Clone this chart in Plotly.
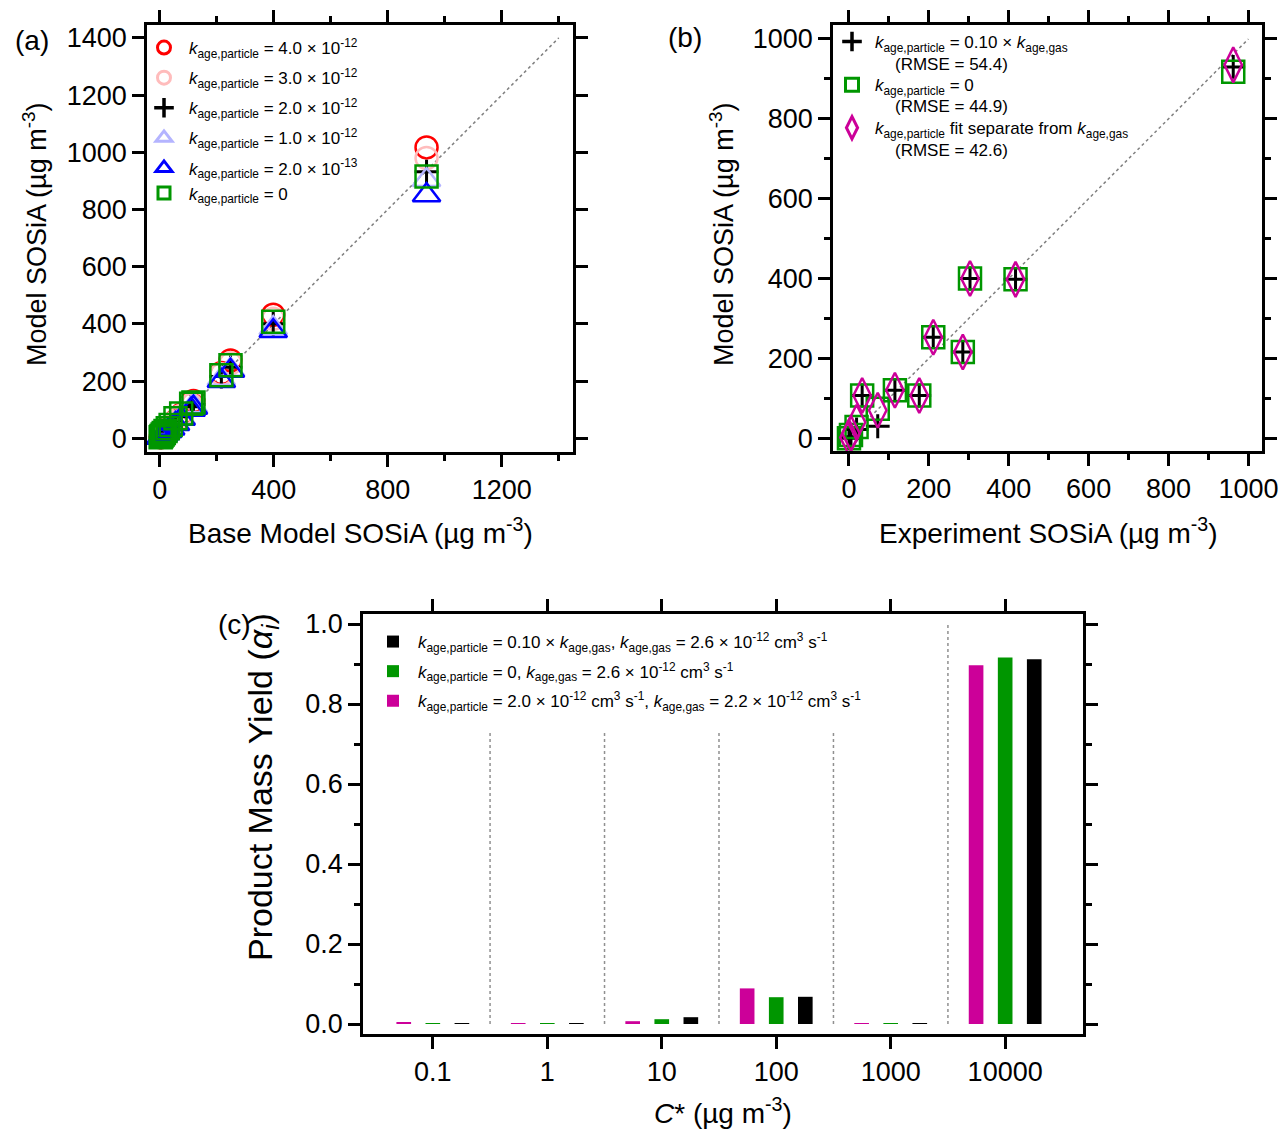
import plotly.graph_objects as go

W, H = 1281, 1130
FONT = "Liberation Sans"

# ---------------- panel (a): model vs base model ----------------
base_x = [3, 6, 10, 14, 20, 28, 38, 55, 75, 110, 118, 216, 248, 398, 936]
a_red = [3, 7, 11, 15, 22, 31, 42, 60, 82, 121, 130, 228, 272, 432, 1017]
a_pink = [3, 6, 10, 15, 21, 29, 40, 58, 79, 116, 124, 224, 262, 418, 980]
a_black = [3, 6, 10, 14, 20, 28, 38, 55, 75, 110, 118, 216, 248, 400, 932]
a_lblue = [3, 6, 9, 13, 19, 27, 36, 52, 72, 106, 113, 208, 240, 385, 903]
a_blue = [2, 5, 9, 13, 18, 25, 34, 50, 68, 100, 107, 200, 236, 375, 850]
a_green = [4, 8, 13, 18, 25, 35, 46, 70, 87, 121, 125, 220, 255, 407, 915]
a_one_to_one = [0, 1400]
a_labels = ["4.0 × 10<sup>-12</sup>", "3.0 × 10<sup>-12</sup>", "2.0 × 10<sup>-12</sup>",
            "1.0 × 10<sup>-12</sup>", "2.0 × 10<sup>-13</sup>", "0"]

# ---------------- panel (b): model vs experiment ----------------
exp_x = [0, 5, 19, 33, 72, 115, 176, 211, 285, 303, 417, 962]
b_plus = [0, 4, 22, 107, 30, 120, 107, 253, 216, 400, 398, 930]
b_square = [0, 8, 28, 107, 74, 120, 107, 253, 216, 400, 398, 918]
b_diamond = [2, 12, 40, 107, 70, 120, 107, 253, 216, 400, 398, 935]
b_rmse = [54.4, 44.9, 42.6]
b_one_to_one = [0, 1000]

# ---------------- panel (c): product mass yields ----------------
cstar_labels = ["0.1", "1", "10", "100", "1000", "10000"]
c_black = [0.001, 0.001, 0.017, 0.068, 0.001, 0.912]
c_green = [0.001, 0.001, 0.012, 0.067, 0.001, 0.916]
c_magenta = [0.005, 0.001, 0.007, 0.089, 0.001, 0.897]
sep_x = [0.5, 1.5, 2.5, 3.5, 4.5]
sep_top = [0.73, 0.73, 0.73, 0.73, 1.0]

RED = "#ff0000"
PINK = "#ffbcbc"
LBLUE = "#b4b4ff"
BLUE = "#0000ff"
GREEN = "#009600"
MAGENTA = "#cc0099"

K = "<i>k</i><sub>age,particle</sub>"
KG = "<i>k</i><sub>age,gas</sub>"


def px(v):
    return v / W


def py(v):
    return 1 - v / H


fig = go.Figure()

# one-to-one guide lines
fig.add_trace(go.Scatter(x=a_one_to_one, y=a_one_to_one, mode="lines",
                         line=dict(color="#808080", width=1.5, dash="dot"),
                         showlegend=False, hoverinfo="skip", xaxis="x", yaxis="y"))
fig.add_trace(go.Scatter(x=b_one_to_one, y=b_one_to_one, mode="lines",
                         line=dict(color="#808080", width=1.5, dash="dot"),
                         showlegend=False, hoverinfo="skip", xaxis="x2", yaxis="y2"))


def pts(x, y, symbol, color, size, lw, ax):
    return go.Scatter(x=x, y=y, mode="markers", showlegend=False,
                      marker=dict(symbol=symbol, size=size, color=color,
                                  line=dict(color=color, width=lw)),
                      xaxis=ax[0], yaxis=ax[1])


def key(name, symbol, color, size, lw, ax, legend, group):
    # legend-only entry with its own symbol size
    return go.Scatter(x=[None], y=[None], mode="markers", name=name,
                      legend=legend, legendgroup=group,
                      marker=dict(symbol=symbol, size=size, color=color,
                                  line=dict(color=color, width=lw)),
                      xaxis=ax[0], yaxis=ax[1])


A = ("x", "y")
a_series = [
    (a_red, "circle-open", RED, 22, 2.5, 13, 3),
    (a_pink, "circle-open", PINK, 22, 2.5, 13, 3),
    (a_black, "cross-thin-open", "black", 17, 3, 14, 3.5),
    (a_lblue, "triangle-up-open", LBLUE, 24, 2.5, 14, 3),
    (a_blue, "triangle-up-open", BLUE, 24, 2.5, 14, 3),
    (a_green, "square-open", GREEN, 22, 2.5, 12, 3),
]
a_groups = ["a1", "a2", "a3", "a4", "a5", "a5"]
for (ys, sym, col, sz, lw, ksz, klw), lab, grp in zip(a_series, a_labels, a_groups):
    fig.add_trace(pts(base_x, ys, sym, col, sz, lw, A))
    fig.add_trace(key(K + " = " + lab, sym, col, ksz, klw, A, "legend", grp))

B = ("x2", "y2")
b_series = [
    (b_plus, "cross-thin-open", "black", 17, 3, 14, 3.5, K + " = 0.10 × " + KG),
    (b_square, "square-open", GREEN, 22, 2.5, 13, 3, K + " = 0"),
    (b_diamond, "diamond-tall-open", MAGENTA, 25, 2.5, 16, 3, K + " fit separate from " + KG),
]
for i, (ys, sym, col, sz, lw, ksz, klw, lab) in enumerate(b_series):
    fig.add_trace(pts(exp_x, ys, sym, col, sz, lw, B))
    fig.add_trace(key(lab, sym, col, ksz, klw, B, "legend2", "b%d" % i))

# separators between volatility bins
for sx, st in zip(sep_x, sep_top):
    fig.add_trace(go.Scatter(x=[sx, sx], y=[0, st], mode="lines",
                             line=dict(color="#909090", width=1.5, dash="dot"),
                             showlegend=False, hoverinfo="skip", xaxis="x3", yaxis="y3"))

idx = list(range(len(cstar_labels)))
BW = 0.128
UNITS = " cm<sup>3</sup> s<sup>-1</sup>"
c_series = [
    (c_black, "black", 0.254, K + " = 0.10 × " + KG + ", " + KG + " = 2.6 × 10<sup>-12</sup>" + UNITS),
    (c_green, GREEN, 0.0, K + " = 0, " + KG + " = 2.6 × 10<sup>-12</sup>" + UNITS),
    (c_magenta, MAGENTA, -0.254, K + " = 2.0 × 10<sup>-12</sup>" + UNITS + ", " + KG + " = 2.2 × 10<sup>-12</sup>" + UNITS),
]
for i, (ys, col, off, lab) in enumerate(c_series):
    fig.add_trace(go.Bar(x=idx, y=ys, width=BW, offset=off - BW / 2, marker_color=col,
                         marker_line_width=0, name=lab, legendgroup="c%d" % i,
                         xaxis="x3", yaxis="y3", legend="legend3"))

axis_common = dict(
    showline=True, linecolor="black", linewidth=2.5, mirror="ticks",
    ticks="outside", ticklen=12, tickwidth=2.5, tickcolor="black",
    showgrid=False, zeroline=False, ticklabeloverflow="allow",
    tickfont=dict(family=FONT, size=27, color="black"),
)
minor_common = dict(ticks="outside", ticklen=6, tickwidth=2.5, tickcolor="black", showgrid=False)

leg_common = dict(bgcolor="rgba(0,0,0,0)", borderwidth=0, xanchor="left", yanchor="top",
                  itemsizing="trace", itemclick=False,
                  font=dict(family=FONT, size=17, color="black"))

fig.update_layout(
    width=W, height=H, margin=dict(l=0, r=0, t=0, b=0, autoexpand=False),
    paper_bgcolor="white", plot_bgcolor="white",
    font=dict(family=FONT, color="black"),
    barmode="overlay",
    xaxis=dict(domain=[px(147), px(573)], range=[-45, 1450], tick0=0, dtick=400,
               minor=dict(dtick=200, tick0=0, **minor_common), anchor="y", **axis_common),
    yaxis=dict(domain=[py(452), py(25)], range=[-48, 1445], tick0=0, dtick=200,
               anchor="x", **axis_common),
    xaxis2=dict(domain=[px(833), px(1262)], range=[-40, 1034], tick0=0, dtick=200,
                minor=dict(dtick=100, tick0=0, **minor_common), anchor="y2", **axis_common),
    yaxis2=dict(domain=[py(451), py(25)], range=[-32, 1035], tick0=0, dtick=200,
                minor=dict(dtick=100, tick0=0, **minor_common), anchor="x2", **axis_common),
    xaxis3=dict(domain=[px(363), px(1083)], range=[-0.61, 5.68], tickmode="array",
                tickvals=idx, ticktext=cstar_labels, anchor="y3", **axis_common),
    yaxis3=dict(domain=[py(1034), py(614)], range=[-0.025, 1.025], tick0=0, dtick=0.2,
                tickformat=".1f", minor=dict(dtick=0.1, tick0=0, **minor_common),
                anchor="x3", **axis_common),
    legend=dict(x=px(139), y=py(30), tracegroupgap=5, itemwidth=40, **leg_common),
    legend2=dict(x=px(829), y=py(24), tracegroupgap=18, itemwidth=36, **leg_common),
    legend3=dict(x=px(368), y=py(624), tracegroupgap=4.5, itemwidth=40, **leg_common),
)

annotations = [
    dict(x=px(32), y=py(40), text="(a)", size=28),
    dict(x=px(685), y=py(38), text="(b)", size=28),
    dict(x=px(234), y=py(624), text="(c)", size=28),
    dict(x=px(360), y=py(531), text="Base Model SOSiA (µg m<sup>-3</sup>)", size=28),
    dict(x=px(1048), y=py(531), text="Experiment SOSiA (µg m<sup>-3</sup>)", size=28),
    dict(x=px(35), y=py(235), text="Model SOSiA (µg m<sup>-3</sup>)", angle=-90, size=27),
    dict(x=px(722), y=py(235), text="Model SOSiA (µg m<sup>-3</sup>)", angle=-90, size=27),
    dict(x=px(723), y=py(1111), text="<i>C</i>* (µg m<sup>-3</sup>)", size=28),
    dict(x=px(262), y=py(787), text="Product Mass Yield (<i>α<sub>i</sub></i>)", angle=-90, size=34),
]
ann = []
for a in annotations:
    ann.append(dict(x=a["x"], y=a["y"], text=a["text"], textangle=a.get("angle", 0),
                    font=dict(family=FONT, size=a["size"], color="black"),
                    xref="paper", yref="paper", showarrow=False,
                    xanchor="center", yanchor="middle"))

# second line of each panel (b) legend entry
for r, yc in zip(b_rmse, [65, 107, 151]):
    ann.append(dict(x=px(893), y=py(yc), text="(RMSE = %.1f)" % r,
                    font=dict(family=FONT, size=17, color="black"),
                    xref="paper", yref="paper", showarrow=False,
                    xanchor="left", yanchor="middle"))
fig.update_layout(annotations=ann)

fig.write_html("out.html")
